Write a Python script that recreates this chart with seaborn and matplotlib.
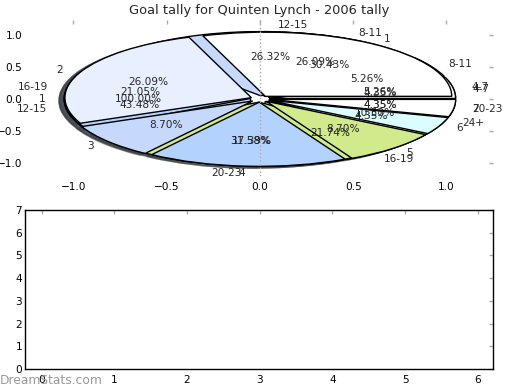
import matplotlib
matplotlib.use('Agg')
import matplotlib.pyplot as plt
import seaborn as sns

# goals per game (23 goals over 7 games)
game_labels = ['1', '2', '3', '4', '5', '6', '7']
game_goals = [7, 6, 2, 4, 2, 1, 1]

# goals by quarter-minute band, two seasons of the tally
band_labels_a = ['4-7', '8-11', '12-15', '16-19', '20-23', '24+']
band_goals_a = [1, 1, 5, 4, 6, 2]
band_labels_b = ['4-7', '8-11', '12-15', '16-19', '20-23']
band_goals_b = [1, 6, 10, 5, 1]

# single-slice total
total_labels = ['1']
total_goals = [1]

slice_colors = ['#ffffff', '#e8f0ff', '#c6d9fd', '#b3d3fe', '#d0ea8c', '#dcfdfd']

sns.set_style('white')
plt.rcParams['font.family'] = ['DejaVu Sans']
plt.rcParams['font.size'] = 7.6

fig = plt.figure(figsize=(5.2, 3.9), dpi=100)
ax = fig.add_axes([25 / 520, 1 - 176 / 390, 468 / 520, 156 / 390])
ax2 = fig.add_axes([25 / 520, 1 - 369 / 390, 468 / 520, 159 / 390])


def draw_pie(values, labels):
    cols = [slice_colors[i % len(slice_colors)] for i in range(len(values))]
    ax.pie(values, labels=labels, colors=cols, explode=[0.05] * len(values),
           autopct='%1.2f%%', shadow=True, startangle=0,
           wedgeprops=dict(edgecolor='black', linewidth=1),
           textprops=dict(fontsize=7.6))


draw_pie(total_goals, total_labels)
draw_pie(band_goals_b, band_labels_b)
draw_pie(band_goals_a, band_labels_a)
draw_pie(game_goals, game_labels)

ax.set_aspect('auto')
ax.set_frame_on(False)
ax.set_xlim(-1.26, 1.25)
ax.set_ylim(-1.2, 1.23)
ax.set_xticks([-1.0, -0.5, 0.0, 0.5, 1.0])
ax.set_yticks([-1.0, -0.5, 0.0, 0.5, 1.0])
ax.set_xticklabels(['\u22121.0', '\u22120.5', '0.0', '0.5', '1.0'])
ax.set_yticklabels(['\u22121.0', '\u22120.5', '0.0', '0.5', '1.0'])
ax.axvline(0, color='#aaaaaa', linestyle=':', linewidth=1, zorder=2.5)
ax.set_title('Goal tally for Quinten Lynch - 2006 tally', fontsize=9.4, pad=4)

# empty lower panel
ax2.set_xlim(-0.23, 6.21)
ax2.set_ylim(0, 7)
ax2.set_xticks(range(0, 7))
ax2.set_yticks(range(0, 8))
for s in ax2.spines.values():
    s.set_color('black')
    s.set_linewidth(1)

for a in (ax, ax2):
    a.tick_params(direction='in', top=True, right=True, length=3, width=1,
                  color='#aaaaaa', labelsize=7.6, labelcolor='black')
    a.tick_params(axis='x', pad=4)
    a.tick_params(axis='y', pad=2)

fig.text(0.0, 1 - 380 / 390, 'DreamStats.com', color='#999999', fontsize=8.8,
         va='center', ha='left')

fig.savefig('out.png', dpi=100)
